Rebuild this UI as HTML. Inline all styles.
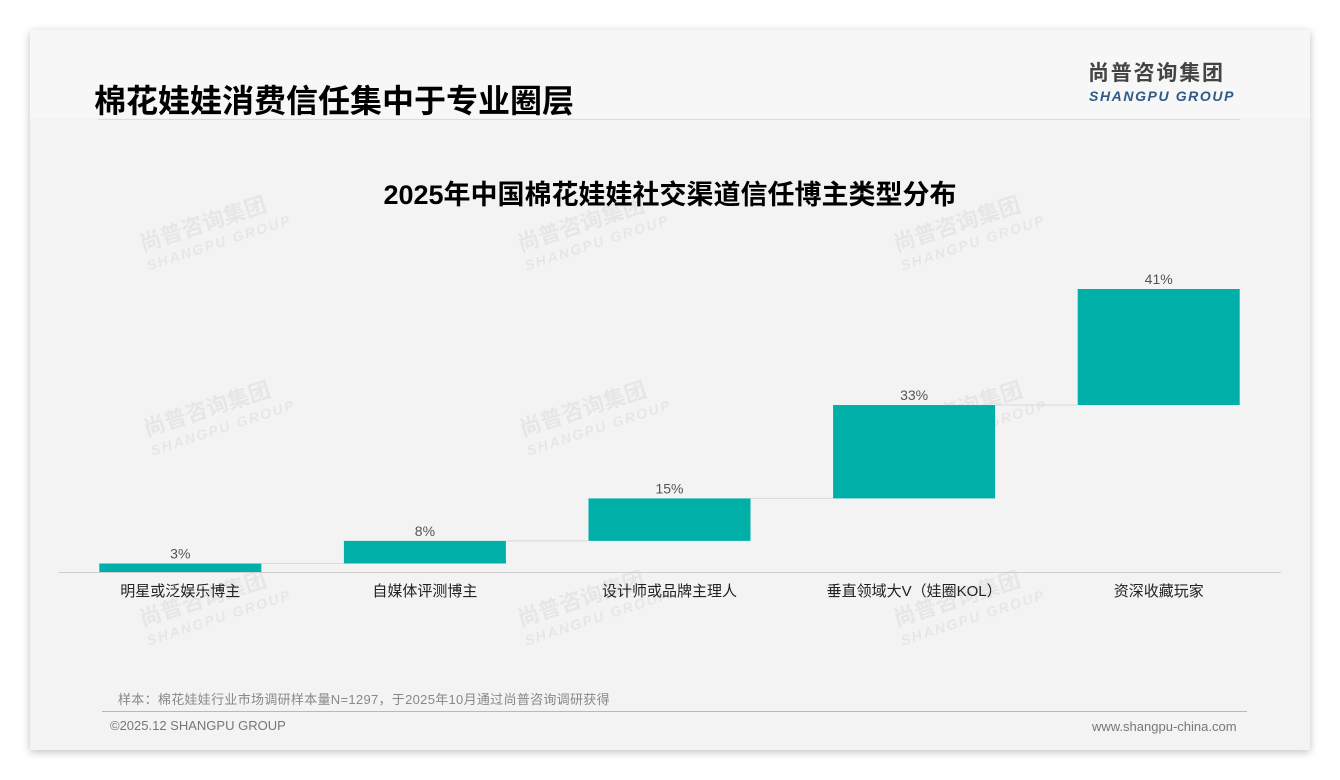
<!DOCTYPE html>
<html><head><meta charset="utf-8">
<style>
body{margin:0;width:1340px;height:780px;background:#fff;position:relative;overflow:hidden;font-family:"Liberation Sans","Noto Sans CJK SC",sans-serif;}
#card{position:absolute;left:30px;top:30px;width:1280px;height:720px;background:#f3f3f3;box-shadow:0 2px 8px rgba(0,0,0,0.25);}
#head{position:absolute;left:0;top:0;width:1280px;height:88px;background:#f7f7f7;}
.t{position:absolute;white-space:nowrap;}
.wm{position:absolute;color:rgba(0,0,0,0.05);font-weight:bold;transform:rotate(-18deg);font-size:22px;line-height:22px;}
.wm span{display:block;font-size:14px;letter-spacing:2px;font-style:italic;}
</style></head><body>
<div id="card">
<div id="head"></div>
<div class="t" style="left:64px;top:46px;font-size:32px;font-weight:bold;color:#000;">棉花娃娃消费信任集中于专业圈层</div>
<div class="t" style="left:1058px;top:31px;font-size:21px;line-height:26px;font-weight:bold;color:#444;letter-spacing:1.8px;">尚普咨询集团</div>
<div class="t" style="left:1059px;top:58px;font-size:14px;line-height:16px;font-weight:bold;font-style:italic;color:#2e5a88;letter-spacing:1.6px;">SHANGPU GROUP</div>
<div style="position:absolute;left:68px;top:89px;width:1142px;height:1px;background:#dcdcdc;"></div>
<div class="t" style="left:0;width:1280px;text-align:center;top:143px;font-size:27px;font-weight:bold;color:#000;">2025年中国棉花娃娃社交渠道信任博主类型分布</div>
<div class="t" style="left:88px;top:659px;font-size:13px;color:#888;letter-spacing:0.3px;">样本：棉花娃娃行业市场调研样本量N=1297，于2025年10月通过尚普咨询调研获得</div>
<div style="position:absolute;left:72px;top:681px;width:1145px;height:1px;background:#a9bcd0;"></div>
<div class="t" style="left:80px;top:688px;font-size:13px;color:#777;">©2025.12 SHANGPU GROUP</div>
<div class="t" style="left:1062px;top:689px;font-size:13px;color:#777;">www.shangpu-china.com</div>
<div class="wm" style="left:110px;top:180px;">尚普咨询集团<span>SHANGPU GROUP</span></div>
<div class="wm" style="left:488px;top:180px;">尚普咨询集团<span>SHANGPU GROUP</span></div>
<div class="wm" style="left:864px;top:180px;">尚普咨询集团<span>SHANGPU GROUP</span></div>
<div class="wm" style="left:114px;top:365px;">尚普咨询集团<span>SHANGPU GROUP</span></div>
<div class="wm" style="left:490px;top:365px;">尚普咨询集团<span>SHANGPU GROUP</span></div>
<div class="wm" style="left:866px;top:365px;">尚普咨询集团<span>SHANGPU GROUP</span></div>
<div class="wm" style="left:110px;top:555px;">尚普咨询集团<span>SHANGPU GROUP</span></div>
<div class="wm" style="left:488px;top:555px;">尚普咨询集团<span>SHANGPU GROUP</span></div>
<div class="wm" style="left:864px;top:555px;">尚普咨询集团<span>SHANGPU GROUP</span></div>
</div>
<svg id="chart" width="1340" height="780" style="position:absolute;left:0;top:0;"></svg>
<script>
const categories=["明星或泛娱乐博主","自媒体评测博主","设计师或品牌主理人","垂直领域大V（娃圈KOL）","资深收藏玩家"];
const values=[3,8,15,33,41];
const valueLabels=["3%","8%","15%","33%","41%"];
const svg=document.getElementById('chart');
const NS='http://www.w3.org/2000/svg';
const x0=58,x1=1281,y0=572,yTop=289;
const total=values.reduce((a,b)=>a+b,0);
const yScale=v=>y0-(v/total)*(y0-yTop);
const band=(x1-x0)/categories.length;
const xCenter=i=>x0+band*(i+0.5);
const bw=162;
function mk(tag,attrs){const e=document.createElementNS(NS,tag);for(const k in attrs)e.setAttribute(k,attrs[k]);svg.appendChild(e);return e;}
let cum=0;
values.forEach((v,i)=>{
  const yb=yScale(cum),yt=yScale(cum+v);
  if(i<values.length-1){
    const c=mk('line',{x1:xCenter(i)+bw/2,x2:xCenter(i+1)-bw/2,y1:yt,y2:yt,stroke:'#d9d9d9','stroke-width':1});
    
    
  }
  const r=mk('rect',{x:xCenter(i)-bw/2,y:yt,width:bw,height:yb-yt,fill:'#00b0a8'});
  
  
  const t=mk('text',{x:xCenter(i),y:yt-5,'text-anchor':'middle','font-size':14,fill:'#555','font-family':'Liberation Sans, sans-serif'});
  t.textContent=valueLabels[i];
  
  
  const l=mk('text',{x:xCenter(i),y:y0+24,'text-anchor':'middle','font-size':15,fill:'#222','font-family':'Liberation Sans, Noto Sans CJK SC, sans-serif'});
  l.textContent=categories[i];
  
  
  cum+=v;
});
const ax=mk('line',{x1:x0,x2:x1,y1:y0+0.5,y2:y0+0.5,stroke:'#d0d0d0','stroke-width':1});


</script>
</body></html>
